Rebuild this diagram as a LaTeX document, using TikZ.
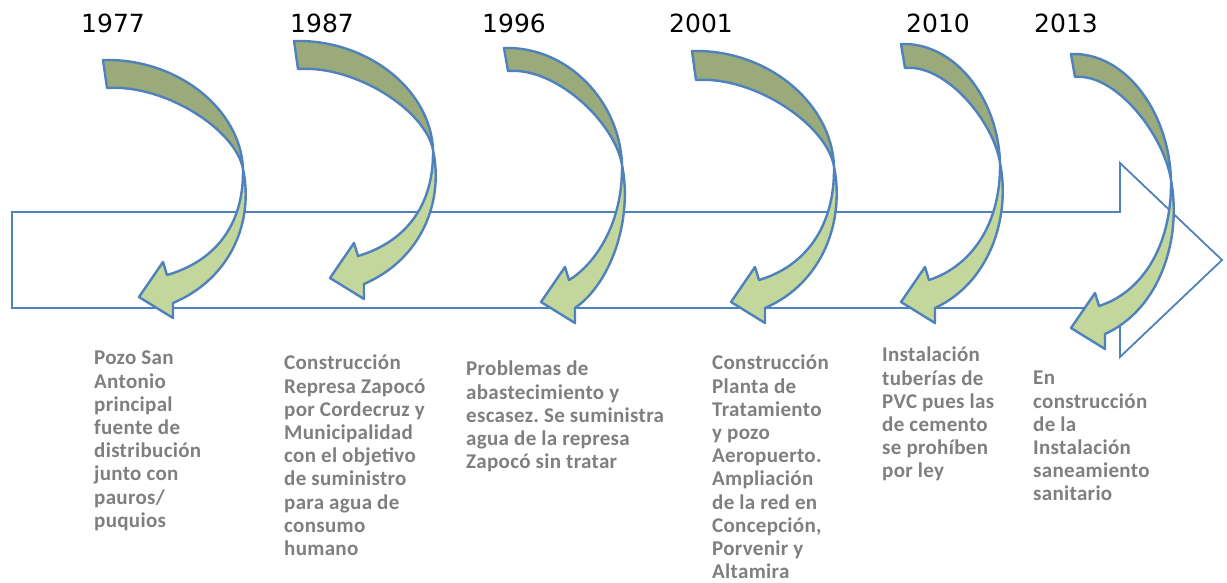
\documentclass[tikz,border=0pt]{standalone}
\usepackage{fontspec}
\setmainfont{Carlito}[LetterSpace=1.5]
\newfontfamily\yearfont{DejaVu Sans}

\definecolor{lineblue}{RGB}{79,129,189}
\definecolor{bandlight}{RGB}{195,214,155}
\definecolor{banddark}{RGB}{155,170,122}
\definecolor{labelgray}{RGB}{127,127,127}

% curved arrow: tail corner (#1,#2), width #3, height #4, tip x #5, tail height #6
\newcommand{\bendarrow}[6]{%
  \pgfmathsetmacro\bxr{#1+#3}%
  \pgfmathsetmacro\byt{#2+#4}%
  \pgfmathsetmacro\byc{#2+0.46*#4}%
  \draw[backband] (#1,#2) .. controls ({#1+0.52*#3},{#2-2}) and ({\bxr-6},{#2+0.21*#4}) .. ({\bxr-4},\byc)
    .. controls ({\bxr-11},{#2+0.295*#4}) and ({#1+0.43*#3},{#2+#6-4}) .. ({#1+4},{#2+#6}) -- cycle;
  \draw[frontband] ({\bxr-4},\byc) .. controls ({\bxr+7},{#2+0.675*#4}) and ({\bxr-15},{\byt-19}) .. ({#5+34},{\byt+6})
    -- ({#5+34},{\byt+21}) -- (#5,\byt) -- ({#5+24},{\byt-35}) -- ({#5+28},{\byt-22})
    .. controls ({\bxr-35},{\byt-35}) and ({\bxr-3},{#2+0.71*#4}) .. ({\bxr-4},\byc) -- cycle;
}

\begin{document}
\begin{tikzpicture}[x=1pt, y=-1pt,
    timeline/.style={draw=lineblue, line width=1.8pt, fill=white},
    backband/.style={draw=lineblue, line width=2.4pt, fill=banddark, line join=round},
    frontband/.style={draw=lineblue, line width=2.4pt, fill=bandlight, line join=round},
    event/.style={anchor=north west, align=left, inner sep=0pt, text=labelgray,
      font=\bfseries\frenchspacing\fontsize{21}{23.2}\selectfont},
    year/.style={anchor=base west, inner sep=0pt, font=\yearfont\fontsize{25}{30}\selectfont}]
\useasboundingbox (0,0) rectangle (1227,582);

% timeline
\draw[timeline] (12,212) -- (1120,212) -- (1120,163) -- (1222,260) -- (1120,357) -- (1120,308) -- (12,308) -- cycle;

% curved arrows
\bendarrow{103}{60}{144}{237}{139}{28}
\bendarrow{294}{41}{143}{237}{330}{28}
\bendarrow{504}{48}{122}{254}{541}{23}
\bendarrow{692}{51}{146}{251}{731}{29}
\bendarrow{901}{44}{103}{258}{901}{24}
\bendarrow{1071}{54}{104}{274}{1071}{23}

% years
\node[year] (y1977) at (81,32) {1977};
\node[year] (y1987) at (290,32) {1987};
\node[year] (y1996) at (482,32) {1996};
\node[year] (y2001) at (669,32) {2001};
\node[year] (y2010) at (906,32) {2010};
\node[year] (y2013) at (1034,32) {2013};

% events
\node[event] (e1977) at (94,351) {Pozo San\\Antonio\\principal\\fuente de\\distribución\\junto con\\pauros/\\puquios};
\node[event] (e1987) at (284,355) {Construcción\\Represa Zapocó\\por Cordecruz y\\Municipalidad\\con el objetivo\\de suministro\\para agua de\\consumo\\humano};
\node[event] (e1996) at (466,361) {Problemas de\\abastecimiento y\\escasez. Se suministra\\agua de la represa\\Zapocó sin tratar};
\node[event] (e2001) at (712,355) {Construcción\\Planta de\\Tratamiento\\y pozo\\Aeropuerto.\\Ampliación\\de la red en\\Concepción,\\Porvenir y\\Altamira};
\node[event] (e2010) at (882,347) {Instalación\\tuberías de\\PVC pues las\\de cemento\\se prohíben\\por ley};
\node[event] (e2013) at (1033,371) {En\\construcción\\de la\\Instalación\\saneamiento\\sanitario};
\end{tikzpicture}
\end{document}
